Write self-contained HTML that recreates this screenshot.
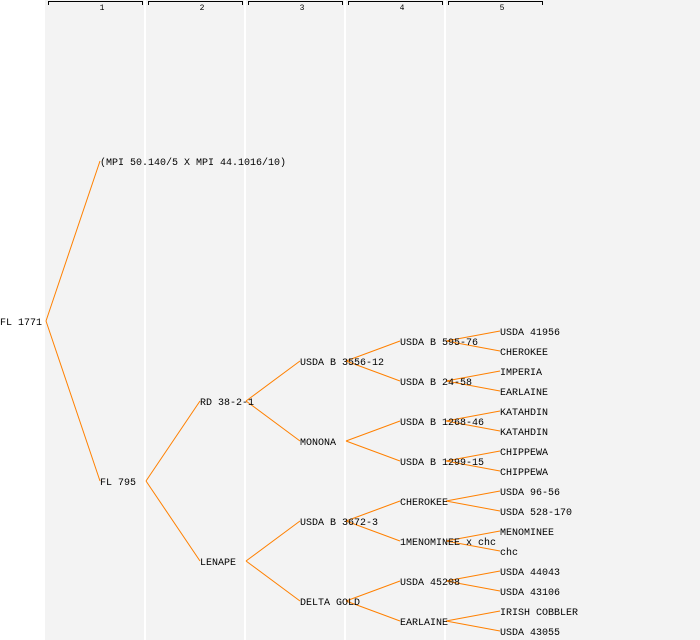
<!DOCTYPE html>
<html><head><meta charset="utf-8"><style>
html,body{margin:0;padding:0;background:#fff;}
svg{display:block;}
text{font-family:"Liberation Mono","DejaVu Sans Mono",monospace;font-size:10px;fill:#000;}
.h{font-size:8px;}
</style></head><body>
<svg width="700" height="640" xmlns="http://www.w3.org/2000/svg">
<rect x="0" y="0" width="700" height="640" fill="#fff"/>
<rect x="45" y="0" width="655" height="640" fill="#f3f3f3"/>
<g fill="#fff">
<rect x="144" y="0" width="2" height="640"/><rect x="244" y="0" width="2" height="640"/>
<rect x="344" y="0" width="2" height="640"/><rect x="444" y="0" width="2" height="640"/>
</g>
<g stroke="#000" fill="none" stroke-width="1">
<path d="M48.5,5 V1.5 H142.5 V5"/><path d="M148.5,5 V1.5 H242.5 V5"/>
<path d="M248.5,5 V1.5 H342.5 V5"/><path d="M348.5,5 V1.5 H442.5 V5"/>
<path d="M448.5,5 V1.5 H542.5 V5"/>
</g>
<g class="h" text-anchor="middle">
<text class="h" x="102" y="10">1</text><text class="h" x="202" y="10">2</text>
<text class="h" x="302" y="10">3</text><text class="h" x="402" y="10">4</text>
<text class="h" x="502" y="10">5</text>
</g>
<g stroke="#ff8000" stroke-width="1" fill="none">
<path d="M46,321 L100,161 M46,321 L100,481"/>
<path d="M146,481 L200,401 M146,481 L200,561"/>
<path d="M246,401 L300,361 M246,401 L300,441 M246,561 L300,521 M246,561 L300,601"/>
<path d="M346,361 L400,341 M346,361 L400,381 M346,441 L400,421 M346,441 L400,461 M346,521 L400,501 M346,521 L400,541 M346,601 L400,581 M346,601 L400,621"/>
<path d="M446,341 L500,331 M446,341 L500,351 M446,381 L500,371 M446,381 L500,391 M446,421 L500,411 M446,421 L500,431 M446,461 L500,451 M446,461 L500,471 M446,501 L500,491 M446,501 L500,511 M446,541 L500,531 M446,541 L500,551 M446,581 L500,571 M446,581 L500,591 M446,621 L500,611 M446,621 L500,631"/>
</g>
<g>
<text x="0" y="325">FL 1771</text>
<text x="100" y="165">(MPI 50.140/5 X MPI 44.1016/10)</text>
<text x="100" y="485">FL 795</text>
<text x="200" y="405">RD 38-2-1</text>
<text x="200" y="565">LENAPE</text>
<text x="300" y="365">USDA B 3556-12</text>
<text x="300" y="445">MONONA</text>
<text x="300" y="525">USDA B 3672-3</text>
<text x="300" y="605">DELTA GOLD</text>
<text x="400" y="345">USDA B 595-76</text>
<text x="400" y="385">USDA B 24-58</text>
<text x="400" y="425">USDA B 1268-46</text>
<text x="400" y="465">USDA B 1299-15</text>
<text x="400" y="505">CHEROKEE</text>
<text x="400" y="545">1MENOMINEE x chc</text>
<text x="400" y="585">USDA 45208</text>
<text x="400" y="625">EARLAINE</text>
<text x="500" y="335">USDA 41956</text>
<text x="500" y="355">CHEROKEE</text>
<text x="500" y="375">IMPERIA</text>
<text x="500" y="395">EARLAINE</text>
<text x="500" y="415">KATAHDIN</text>
<text x="500" y="435">KATAHDIN</text>
<text x="500" y="455">CHIPPEWA</text>
<text x="500" y="475">CHIPPEWA</text>
<text x="500" y="495">USDA 96-56</text>
<text x="500" y="515">USDA 528-170</text>
<text x="500" y="535">MENOMINEE</text>
<text x="500" y="555">chc</text>
<text x="500" y="575">USDA 44043</text>
<text x="500" y="595">USDA 43106</text>
<text x="500" y="615">IRISH COBBLER</text>
<text x="500" y="635">USDA 43055</text>
</g>
</svg>
</body></html>
